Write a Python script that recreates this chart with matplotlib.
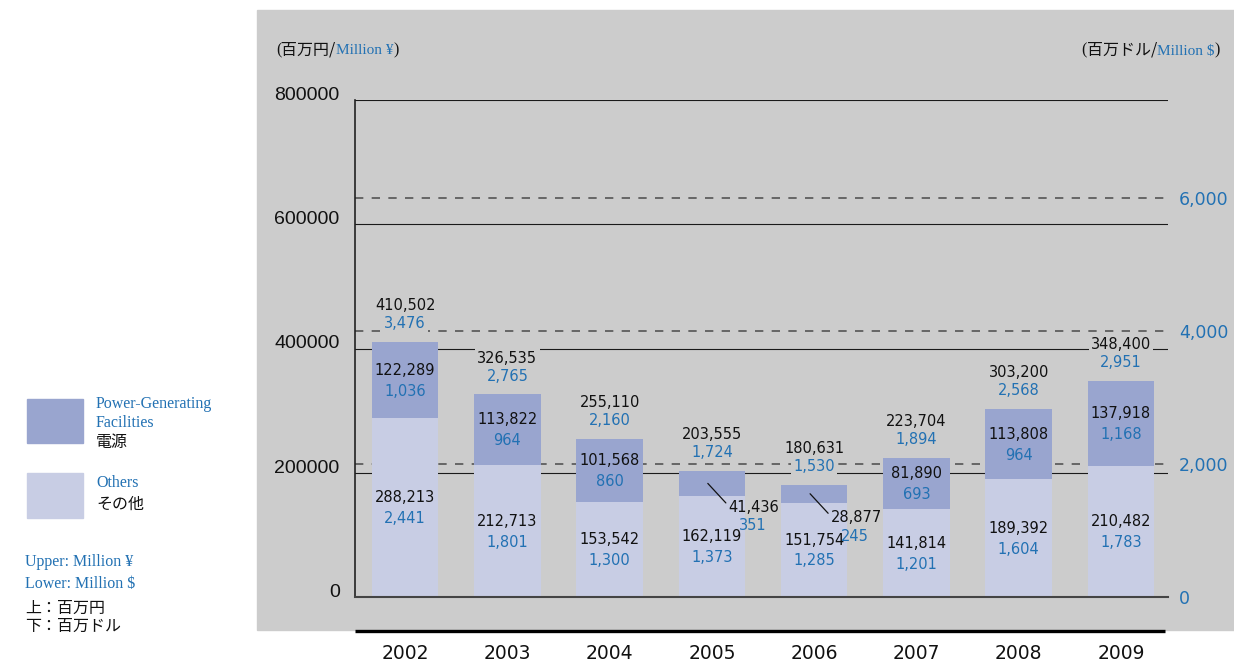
import matplotlib
matplotlib.use("Agg")
import matplotlib.pyplot as plt
from matplotlib.patches import Rectangle
from matplotlib.offsetbox import TextArea, HPacker, AnchoredOffsetbox

# data (million yen / million dollars)
years = ['2002', '2003', '2004', '2005', '2006', '2007', '2008', '2009']
others = [288213, 212713, 153542, 162119, 151754, 141814, 189392, 210482]
others_usd = [2441, 1801, 1300, 1373, 1285, 1201, 1604, 1783]
power = [122289, 113822, 101568, 41436, 28877, 81890, 113808, 137918]
power_usd = [1036, 964, 860, 351, 245, 693, 964, 1168]
totals_usd = [3476, 2765, 2160, 1724, 1530, 1894, 2568, 2951]
yen_ticks = [0, 200000, 400000, 600000, 800000]
usd_ticks = [0, 2000, 4000, 6000]
yen_per_usd = 107  # scale between the two axes

W, H = 1234, 664
gray = '#cccccc'
c_power = '#99a5cf'
c_others = '#c8cde4'
blue = '#2271b3'
cjk = ['Noto Sans CJK JP', 'DejaVu Sans']
serif = 'Liberation Serif'

fig = plt.figure(figsize=(W / 100, H / 100), dpi=100)
fig.add_artist(Rectangle((257 / W, 1 - 630 / H), 1 - 257 / W, 620 / H,
                         transform=fig.transFigure, color=gray, zorder=-10))

ax = fig.add_axes([355 / W, 1 - 597 / H, (1168 - 355) / W, (597 - 100) / H])
ax.patch.set_visible(False)
ax.set_xlim(-0.49, 7.46)
ax.set_ylim(0, 800000)

x = list(range(len(years)))
totals = [o + p for o, p in zip(others, power)]

# grid lines
for v in yen_ticks[1:]:
    ax.axhline(v, color='#1a1a1a', lw=0.8, zorder=1)
for v in usd_ticks[1:]:
    ax.axhline(v * yen_per_usd, color='#555555', lw=1.2, dashes=(5, 5), zorder=1)

ax.bar(x, others, width=0.65, color=c_others, zorder=2)
ax.bar(x, power, width=0.65, bottom=others, color=c_power, zorder=2)

lab = dict(fontsize=10.5, family='DejaVu Sans', ha='center', va='center',
           textcoords='offset points', zorder=4)
box = dict(boxstyle='square,pad=0.15', fc=gray, ec='none')
for i in x:
    mid = others[i] / 2
    ax.annotate(f'{others[i]:,}', (i, mid), xytext=(0, 7), color='#111111', **lab)
    ax.annotate(f'{others_usd[i]:,}', (i, mid), xytext=(0, -8), color=blue, **lab)
    pm = others[i] + power[i] / 2
    if power[i] > 50000:
        ax.annotate(f'{power[i]:,}', (i, pm), xytext=(0, 7), color='#111111', **lab)
        ax.annotate(f'{power_usd[i]:,}', (i, pm), xytext=(0, -8), color=blue, **lab)
    else:
        ax.annotate(f'{power[i]:,}', (i - 0.04, pm), xytext=(15, -17.3),
                    textcoords='offset points', fontsize=10.5, color='#111111',
                    ha='left', va='center', zorder=4,
                    arrowprops=dict(arrowstyle='-', color='#111111', lw=0.9,
                                    shrinkA=0, shrinkB=0, relpos=(0, 0.6)))
        ax.annotate(f'{power_usd[i]:,}', (i - 0.04, pm), xytext=(32.5, -30.5),
                    color=blue, **lab)
    ax.annotate(f'{totals[i]:,}', (i, totals[i]), xytext=(0, 26), color='#111111',
                bbox=box, **lab)
    ax.annotate(f'{totals_usd[i]:,}', (i, totals[i]), xytext=(0, 13), color=blue,
                bbox=box, **lab)

# axes styling
for s in ['top', 'right']:
    ax.spines[s].set_visible(False)
ax.spines['left'].set_linewidth(1.2)
ax.spines['left'].set_color('#222222')
ax.spines['bottom'].set_linewidth(1.5)
ax.spines['bottom'].set_color('#444444')

ax.set_yticks(yen_ticks)
ax.set_yticklabels([str(v) for v in yen_ticks], fontsize=14, family='Liberation Sans',
                   color='#111111', va='baseline')
ax.tick_params(axis='y', length=0, pad=11)
ax.set_xticks(x)
ax.set_xticklabels(years, fontsize=13.5, color='#111111')
ax.tick_params(axis='x', length=0, pad=34)

ax.plot([0, 0.996], [-0.0685, -0.0685], transform=ax.transAxes, clip_on=False,
        color='black', lw=2.4, solid_capstyle='butt')

ax2 = ax.twinx()
ax2.set_ylim(0, 800000 / yen_per_usd)
for s in ax2.spines.values():
    s.set_visible(False)
ax2.set_yticks(usd_ticks)
ax2.set_yticklabels([f'{v:,}' for v in usd_ticks], fontsize=12.5, color=blue)
ax2.tick_params(axis='y', length=0, pad=8)


def mixed(parts, xy, loc):
    kids = [TextArea(t, textprops=dict(color=c, fontsize=s, family=f))
            for t, c, s, f in parts]
    pack = HPacker(children=kids, align='baseline', pad=0, sep=0)
    ab = AnchoredOffsetbox(loc=loc, child=pack, bbox_to_anchor=xy,
                           bbox_transform=fig.transFigure, frameon=False,
                           borderpad=0, pad=0)
    fig.add_artist(ab)


mixed([('(', '#111111', 11.5, serif), ('百万円/', '#111111', 11.5, cjk),
       ('Million ¥', blue, 11, serif), (')', '#111111', 11.5, serif)],
      (276 / W, 1 - 50 / H), 'center left')
mixed([('(', '#111111', 11.5, serif), ('百万ドル/', '#111111', 11.5, cjk),
       ('Million $', blue, 11, serif), (')', '#111111', 11.5, serif)],
      (1220 / W, 1 - 50 / H), 'center right')

# legend on the left
fig.add_artist(Rectangle((27 / W, 1 - 443 / H), 56 / W, 44 / H,
                         transform=fig.transFigure, color=c_power))
fig.add_artist(Rectangle((27 / W, 1 - 518 / H), 56 / W, 45 / H,
                         transform=fig.transFigure, color=c_others))


def ftext(px, py, s, color, size, family):
    fig.text(px / W, 1 - py / H, s, color=color, fontsize=size, family=family,
             ha='left', va='center')


ftext(96, 404, 'Power-Generating', blue, 11.5, serif)
ftext(96, 423, 'Facilities', blue, 11.5, serif)
ftext(96, 442, '電源', '#111111', 11.5, cjk)
ftext(96, 483, 'Others', blue, 11.5, serif)
ftext(96, 504, 'その他', '#111111', 11.5, cjk)
ftext(25, 562, 'Upper: Million ¥', blue, 11.5, serif)
ftext(25, 584, 'Lower: Million $', blue, 11.5, serif)
ftext(25, 608, '上：百万円', '#111111', 11.5, cjk)
ftext(25, 626, '下：百万ドル', '#111111', 11.5, cjk)

fig.savefig('out.png', dpi=100)
